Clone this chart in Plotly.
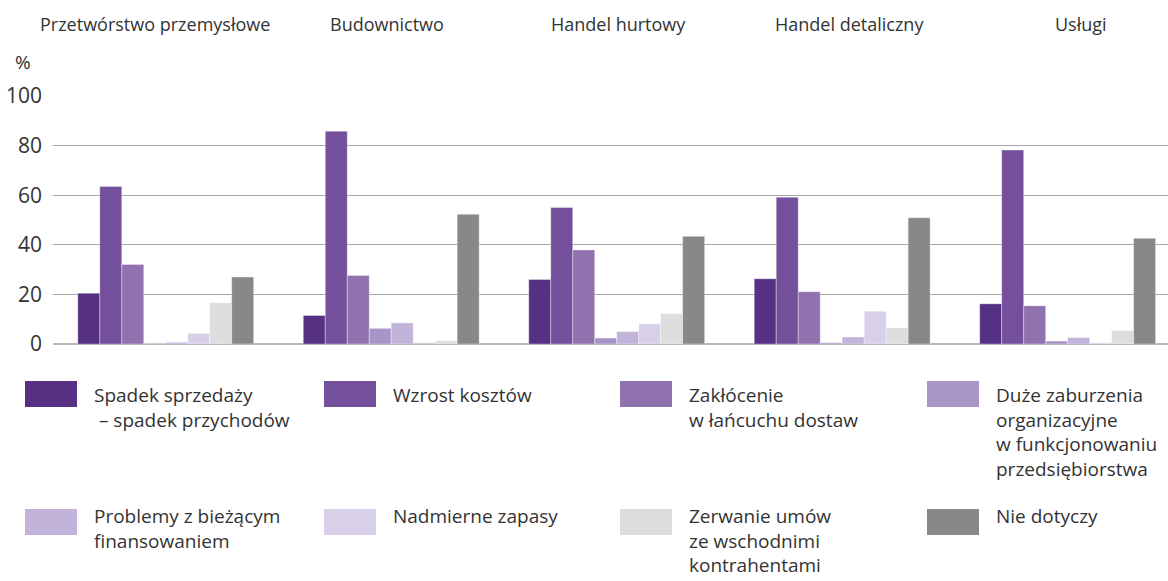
import plotly.graph_objects as go

sectors = ["Przetwórstwo przemysłowe", "Budownictwo", "Handel hurtowy", "Handel detaliczny", "Usługi"]

series_names = [
    "Spadek sprzedaży<br>\u00a0– spadek przychodów",
    "Wzrost kosztów",
    "Zakłócenie<br>w łańcuchu dostaw",
    "Duże zaburzenia<br>organizacyjne<br>w funkcjonowaniu<br>przedsiębiorstwa",
    "Problemy z bieżącym<br>finansowaniem",
    "Nadmierne zapasy",
    "Zerwanie umów<br>ze wschodnimi<br>kontrahentami",
    "Nie dotyczy",
]

spadek_sprzedazy = [20.5, 11.5, 26.0, 26.3, 16.2]
wzrost_kosztow = [63.5, 85.8, 55.0, 59.2, 78.2]
zaklocenie_dostaw = [32.1, 27.6, 37.9, 21.1, 15.4]
zaburzenia_org = [0.0, 6.3, 2.4, 0.5, 1.2]
problemy_finans = [0.7, 8.5, 5.0, 2.8, 2.6]
nadmierne_zapasy = [4.3, 0.0, 8.1, 13.2, 0.5]
zerwanie_umow = [16.6, 1.3, 12.2, 6.5, 5.4]
nie_dotyczy = [27.0, 52.3, 43.4, 50.9, 42.6]

series_values = [spadek_sprzedazy, wzrost_kosztow, zaklocenie_dostaw, zaburzenia_org,
                 problemy_finans, nadmierne_zapasy, zerwanie_umow, nie_dotyczy]

colors = ["#563082", "#744f9b", "#8f72ae", "#a894c7", "#c2b3da", "#d8d0e8", "#dcdddc", "#888888"]

y_ticks = [0, 20, 40, 60, 80, 100]

FONT = "Open Sans, Noto Sans, sans-serif"
TXT = "#333333"

W, H = 1168, 581
L, R, T, B = 53, 0, 96, 237
PW = W - L - R
PH = H - T - B


def px(x):
    return (x - L) / PW


def py(y):
    return (H - B - y) / PH


fig = go.Figure()
for name, vals, col in zip(series_names, series_values, colors):
    fig.add_trace(go.Bar(
        x=sectors, y=vals, name=name,
        marker=dict(color=col, line=dict(color="rgba(255,255,255,0.35)", width=1)),
        showlegend=False,
    ))

# group titles
title_px = [155, 387, 618, 849, 1081]
for s, xp in zip(sectors, title_px):
    fig.add_annotation(text=s, x=px(xp), y=py(24), xref="paper", yref="paper",
                       showarrow=False, xanchor="center", yanchor="middle",
                       font=dict(size=18, color=TXT, family=FONT))

# % label
fig.add_annotation(text="%", x=px(23), y=py(62), xref="paper", yref="paper",
                   showarrow=False, xanchor="center", yanchor="middle",
                   font=dict(size=19, color=TXT, family=FONT))

# custom legend
col_x = [25, 324, 620, 927]
row_y = [381, 509]
text_top = [380, 501]
for i, (name, col) in enumerate(zip(series_names, colors)):
    r, c = divmod(i, 4)
    x0 = col_x[c]
    y0 = row_y[r]
    fig.add_shape(type="rect", xref="paper", yref="paper",
                  x0=px(x0), x1=px(x0 + 52), y0=py(y0), y1=py(y0 + 26),
                  fillcolor=col, line=dict(width=0))
    fig.add_annotation(text=name, x=px(x0 + 67), y=py(text_top[r]),
                       xref="paper", yref="paper",
                       showarrow=False, xanchor="left", yanchor="top", align="left",
                       font=dict(size=19, color=TXT, family=FONT))

fig.update_layout(
    width=W, height=H,
    margin=dict(l=L, r=R, t=T, b=B, pad=0),
    paper_bgcolor="white", plot_bgcolor="white",
    barmode="group", bargap=0.22, bargroupgap=0,
    showlegend=False,
    font=dict(family=FONT, color=TXT),
    xaxis=dict(type="category", range=[-0.5, 4.445], showticklabels=False,
               showgrid=False, zeroline=False, showline=False, ticks=""),
    yaxis=dict(range=[0, 100], tickvals=y_ticks, showgrid=True, gridcolor="#a6a6a6",
               gridwidth=1, zeroline=True, zerolinecolor="#b8b8b8", zerolinewidth=2,
               showline=False, ticks="", ticklabelstandoff=10,
               tickfont=dict(size=21, color=TXT, family=FONT)),
)

fig.write_html("out.html", config={"displayModeBar": False},
               post_script="document.body.style.margin='0px';")
